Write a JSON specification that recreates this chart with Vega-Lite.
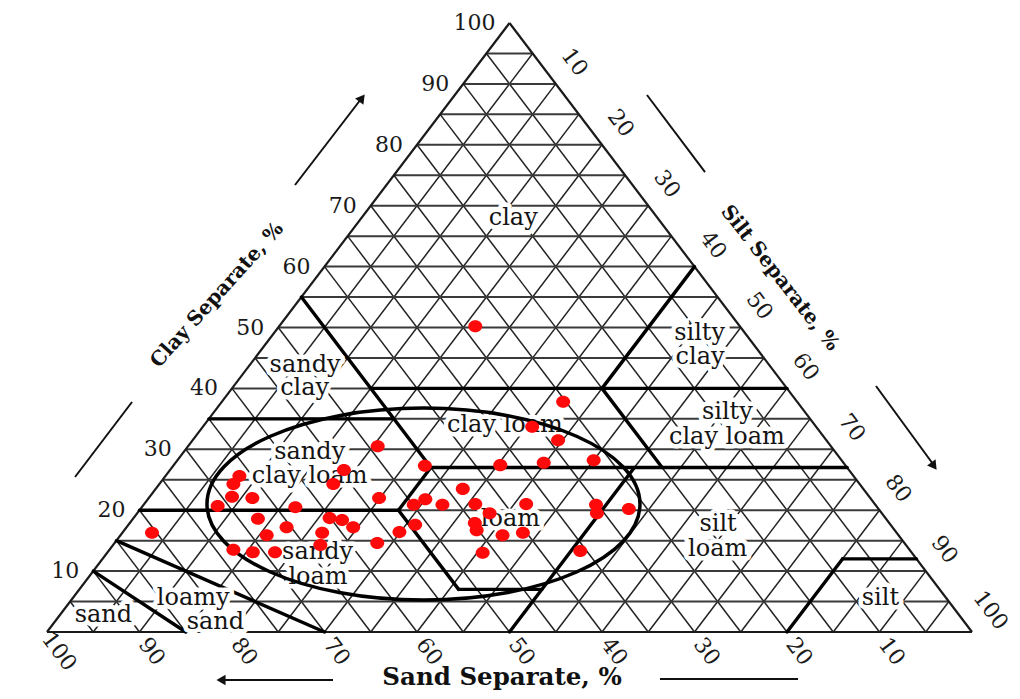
{
  "$schema": "https://vega.github.io/schema/vega-lite/v6.json",
  "width": 1020,
  "height": 699,
  "autosize": {"type": "fit", "contains": "padding"},
  "padding": 0,
  "background": "white",
  "config": {"view": {"stroke": null}},
  "datasets": {
    "lattice": [
      {"part": "clay", "c1": 5, "t1": 0, "c2": 5, "t2": 95},
      {"part": "clay", "c1": 10, "t1": 0, "c2": 10, "t2": 90},
      {"part": "clay", "c1": 15, "t1": 0, "c2": 15, "t2": 85},
      {"part": "clay", "c1": 20, "t1": 0, "c2": 20, "t2": 80},
      {"part": "clay", "c1": 25, "t1": 0, "c2": 25, "t2": 75},
      {"part": "clay", "c1": 30, "t1": 0, "c2": 30, "t2": 70},
      {"part": "clay", "c1": 35, "t1": 0, "c2": 35, "t2": 65},
      {"part": "clay", "c1": 40, "t1": 0, "c2": 40, "t2": 60},
      {"part": "clay", "c1": 45, "t1": 0, "c2": 45, "t2": 55},
      {"part": "clay", "c1": 50, "t1": 0, "c2": 50, "t2": 50},
      {"part": "clay", "c1": 55, "t1": 0, "c2": 55, "t2": 45},
      {"part": "clay", "c1": 60, "t1": 0, "c2": 60, "t2": 40},
      {"part": "clay", "c1": 65, "t1": 0, "c2": 65, "t2": 35},
      {"part": "clay", "c1": 70, "t1": 0, "c2": 70, "t2": 30},
      {"part": "clay", "c1": 75, "t1": 0, "c2": 75, "t2": 25},
      {"part": "clay", "c1": 80, "t1": 0, "c2": 80, "t2": 20},
      {"part": "clay", "c1": 85, "t1": 0, "c2": 85, "t2": 15},
      {"part": "clay", "c1": 90, "t1": 0, "c2": 90, "t2": 10},
      {"part": "clay", "c1": 95, "t1": 0, "c2": 95, "t2": 5},
      {"part": "sand", "c1": 0, "t1": 95, "c2": 95, "t2": 0},
      {"part": "sand", "c1": 0, "t1": 90, "c2": 90, "t2": 0},
      {"part": "sand", "c1": 0, "t1": 85, "c2": 85, "t2": 0},
      {"part": "sand", "c1": 0, "t1": 80, "c2": 80, "t2": 0},
      {"part": "sand", "c1": 0, "t1": 75, "c2": 75, "t2": 0},
      {"part": "sand", "c1": 0, "t1": 70, "c2": 70, "t2": 0},
      {"part": "sand", "c1": 0, "t1": 65, "c2": 65, "t2": 0},
      {"part": "sand", "c1": 0, "t1": 60, "c2": 60, "t2": 0},
      {"part": "sand", "c1": 0, "t1": 55, "c2": 55, "t2": 0},
      {"part": "sand", "c1": 0, "t1": 50, "c2": 50, "t2": 0},
      {"part": "sand", "c1": 0, "t1": 45, "c2": 45, "t2": 0},
      {"part": "sand", "c1": 0, "t1": 40, "c2": 40, "t2": 0},
      {"part": "sand", "c1": 0, "t1": 35, "c2": 35, "t2": 0},
      {"part": "sand", "c1": 0, "t1": 30, "c2": 30, "t2": 0},
      {"part": "sand", "c1": 0, "t1": 25, "c2": 25, "t2": 0},
      {"part": "sand", "c1": 0, "t1": 20, "c2": 20, "t2": 0},
      {"part": "sand", "c1": 0, "t1": 15, "c2": 15, "t2": 0},
      {"part": "sand", "c1": 0, "t1": 10, "c2": 10, "t2": 0},
      {"part": "sand", "c1": 0, "t1": 5, "c2": 5, "t2": 0},
      {"part": "silt", "c1": 0, "t1": 5, "c2": 95, "t2": 5},
      {"part": "silt", "c1": 0, "t1": 10, "c2": 90, "t2": 10},
      {"part": "silt", "c1": 0, "t1": 15, "c2": 85, "t2": 15},
      {"part": "silt", "c1": 0, "t1": 20, "c2": 80, "t2": 20},
      {"part": "silt", "c1": 0, "t1": 25, "c2": 75, "t2": 25},
      {"part": "silt", "c1": 0, "t1": 30, "c2": 70, "t2": 30},
      {"part": "silt", "c1": 0, "t1": 35, "c2": 65, "t2": 35},
      {"part": "silt", "c1": 0, "t1": 40, "c2": 60, "t2": 40},
      {"part": "silt", "c1": 0, "t1": 45, "c2": 55, "t2": 45},
      {"part": "silt", "c1": 0, "t1": 50, "c2": 50, "t2": 50},
      {"part": "silt", "c1": 0, "t1": 55, "c2": 45, "t2": 55},
      {"part": "silt", "c1": 0, "t1": 60, "c2": 40, "t2": 60},
      {"part": "silt", "c1": 0, "t1": 65, "c2": 35, "t2": 65},
      {"part": "silt", "c1": 0, "t1": 70, "c2": 30, "t2": 70},
      {"part": "silt", "c1": 0, "t1": 75, "c2": 25, "t2": 75},
      {"part": "silt", "c1": 0, "t1": 80, "c2": 20, "t2": 80},
      {"part": "silt", "c1": 0, "t1": 85, "c2": 15, "t2": 85},
      {"part": "silt", "c1": 0, "t1": 90, "c2": 10, "t2": 90},
      {"part": "silt", "c1": 0, "t1": 95, "c2": 5, "t2": 95}
    ],
    "edges": [
      {"c1": 0, "t1": 0, "c2": 0, "t2": 100},
      {"c1": 0, "t1": 0, "c2": 100, "t2": 0},
      {"c1": 0, "t1": 100, "c2": 100, "t2": 0}
    ],
    "classes": [
      {"c1": 40, "t1": 15, "c2": 40, "t2": 60},
      {"c1": 40, "t1": 40, "c2": 60, "t2": 40},
      {"c1": 55, "t1": 0, "c2": 27, "t2": 28},
      {"c1": 35, "t1": 0, "c2": 35, "t2": 20},
      {"c1": 27, "t1": 28, "c2": 27, "t2": 73},
      {"c1": 27, "t1": 53, "c2": 40, "t2": 40},
      {"c1": 20, "t1": 28, "c2": 27, "t2": 28},
      {"c1": 20, "t1": 0, "c2": 20, "t2": 28},
      {"c1": 20, "t1": 28, "c2": 7, "t2": 41},
      {"c1": 7, "t1": 41, "c2": 7, "t2": 50},
      {"c1": 0, "t1": 50, "c2": 27, "t2": 50},
      {"c1": 0, "t1": 80, "c2": 12, "t2": 80},
      {"c1": 12, "t1": 80, "c2": 12, "t2": 88},
      {"c1": 0, "t1": 30, "c2": 15, "t2": 0},
      {"c1": 0, "t1": 15, "c2": 10, "t2": 0}
    ],
    "names": [
      {"text": "clay", "clay": 68.0, "silt": 16.4},
      {"text": "sandy", "clay": 43.8, "silt": 6.0},
      {"text": "clay", "clay": 40.1, "silt": 7.8},
      {"text": "silty", "clay": 49.1, "silt": 46.0},
      {"text": "clay", "clay": 45.2, "silt": 48.0},
      {"text": "clay loam", "clay": 34.0, "silt": 32.5},
      {"text": "silty", "clay": 36.1, "silt": 55.5},
      {"text": "clay loam", "clay": 32.0, "silt": 57.5},
      {"text": "sandy", "clay": 29.6, "silt": 13.6},
      {"text": "clay loam", "clay": 25.6, "silt": 15.6},
      {"text": "loam", "clay": 18.6, "silt": 40.8},
      {"text": "silt", "clay": 17.7, "silt": 63.7},
      {"text": "loam", "clay": 13.6, "silt": 65.7},
      {"text": "sandy", "clay": 13.1, "silt": 22.7},
      {"text": "loam", "clay": 9.0, "silt": 24.8},
      {"text": "loamy", "clay": 5.6, "silt": 13.0},
      {"text": "sand", "clay": 1.6, "silt": 17.4},
      {"text": "sand", "clay": 2.8, "silt": 4.7},
      {"text": "silt", "clay": 5.6, "silt": 87.3}
    ],
    "samples": [
      {"sand": 28.6, "silt": 21.2, "clay": 50.2},
      {"sand": 25.3, "silt": 36.9, "clay": 37.8},
      {"sand": 30.7, "silt": 35.6, "clay": 33.7},
      {"sand": 29.0, "silt": 39.5, "clay": 31.5},
      {"sand": 26.8, "silt": 45.0, "clay": 28.2},
      {"sand": 32.4, "silt": 39.8, "clay": 27.8},
      {"sand": 37.3, "silt": 35.3, "clay": 27.4},
      {"sand": 45.5, "silt": 27.2, "clay": 27.3},
      {"sand": 43.3, "silt": 33.2, "clay": 23.5},
      {"sand": 49.0, "silt": 20.5, "clay": 30.5},
      {"sand": 54.6, "silt": 18.8, "clay": 26.6},
      {"sand": 56.9, "silt": 18.8, "clay": 24.3},
      {"sand": 53.1, "silt": 24.9, "clay": 22.0},
      {"sand": 49.9, "silt": 29.2, "clay": 20.9},
      {"sand": 48.2, "silt": 30.0, "clay": 21.8},
      {"sand": 46.8, "silt": 32.3, "clay": 20.9},
      {"sand": 43.2, "silt": 35.8, "clay": 21.0},
      {"sand": 42.4, "silt": 38.1, "clay": 19.5},
      {"sand": 37.7, "silt": 41.3, "clay": 21.0},
      {"sand": 44.8, "silt": 37.3, "clay": 17.9},
      {"sand": 45.2, "silt": 38.1, "clay": 16.7},
      {"sand": 42.8, "silt": 41.3, "clay": 15.9},
      {"sand": 40.4, "silt": 43.3, "clay": 16.3},
      {"sand": 51.4, "silt": 31.0, "clay": 17.6},
      {"sand": 53.7, "silt": 29.9, "clay": 16.4},
      {"sand": 46.4, "silt": 40.6, "clay": 13.0},
      {"sand": 35.7, "silt": 51.0, "clay": 13.3},
      {"sand": 30.2, "silt": 48.9, "clay": 20.9},
      {"sand": 30.8, "silt": 49.7, "clay": 19.5},
      {"sand": 27.0, "silt": 52.8, "clay": 20.2},
      {"sand": 57.0, "silt": 28.4, "clay": 14.6},
      {"sand": 63.3, "silt": 22.4, "clay": 14.3},
      {"sand": 62.1, "silt": 21.6, "clay": 16.3},
      {"sand": 58.3, "silt": 24.5, "clay": 17.2},
      {"sand": 58.9, "silt": 22.7, "clay": 18.4},
      {"sand": 60.1, "silt": 21.2, "clay": 18.7},
      {"sand": 65.5, "silt": 17.3, "clay": 17.2},
      {"sand": 68.3, "silt": 15.8, "clay": 15.9},
      {"sand": 67.9, "silt": 13.5, "clay": 18.6},
      {"sand": 62.9, "silt": 16.6, "clay": 20.5},
      {"sand": 66.8, "silt": 11.2, "clay": 22.0},
      {"sand": 68.9, "silt": 8.9, "clay": 22.2},
      {"sand": 71.2, "silt": 8.1, "clay": 20.7},
      {"sand": 66.4, "silt": 8.0, "clay": 25.6},
      {"sand": 67.7, "silt": 8.0, "clay": 24.3},
      {"sand": 80.5, "silt": 3.2, "clay": 16.3},
      {"sand": 73.1, "silt": 13.4, "clay": 13.5},
      {"sand": 71.2, "silt": 15.7, "clay": 13.1},
      {"sand": 68.8, "silt": 18.1, "clay": 13.1}
    ],
    "group": [{"x": 40.7, "y": 21.0}],
    "arrows": [
      {"name": "clay", "x": 26.81, "y": 73.40, "x2": 33.95, "y2": 87.52},
      {"name": "silt", "x": 89.62, "y": 40.39, "x2": 95.78, "y2": 27.59},
      {"name": "sand", "x": 30.92, "y": -7.88, "x2": 19.24, "y2": -7.88},
      {"name": "silt-line", "x": 64.86, "y": 88.18, "x2": 71.14, "y2": 75.53},
      {"name": "clay-line", "x": 3.03, "y": 25.45, "x2": 9.19, "y2": 37.77},
      {"name": "sand-line", "x": 66.27, "y": -7.72, "x2": 81.19, "y2": -7.72}
    ],
    "heads": [
      {"name": "clay", "x": 34.05, "y": 87.68},
      {"name": "silt", "x": 95.89, "y": 27.26},
      {"name": "sand", "x": 18.81, "y": -7.88}
    ],
    "clayTicks": [
      {"v": "10", "clay": 10}, {"v": "20", "clay": 20}, {"v": "30", "clay": 30},
      {"v": "40", "clay": 40}, {"v": "50", "clay": 50}, {"v": "60", "clay": 60},
      {"v": "70", "clay": 70}, {"v": "80", "clay": 80}, {"v": "90", "clay": 90},
      {"v": "100", "clay": 100}
    ],
    "siltTicks": [
      {"v": "10", "silt": 10}, {"v": "20", "silt": 20}, {"v": "30", "silt": 30},
      {"v": "40", "silt": 40}, {"v": "50", "silt": 50}, {"v": "60", "silt": 60},
      {"v": "70", "silt": 70}, {"v": "80", "silt": 80}, {"v": "90", "silt": 90},
      {"v": "100", "silt": 100}
    ],
    "sandTicks": [
      {"v": "10", "sand": 10}, {"v": "20", "sand": 20}, {"v": "30", "sand": 30},
      {"v": "40", "sand": 40}, {"v": "50", "sand": 50}, {"v": "60", "sand": 60},
      {"v": "70", "sand": 70}, {"v": "80", "sand": 80}, {"v": "90", "sand": 90},
      {"v": "100", "sand": 100}
    ],
    "titles": [
      {"text": "Clay Separate, %", "x": 18.38, "y": 55.34},
      {"text": "Silt Separate, %", "x": 79.24, "y": 58.13},
      {"text": "Sand Separate, %", "x": 49.19, "y": -7.55}
    ]
  },
  "encoding": {
    "x": {"field": "x", "type": "quantitative", "scale": {"domain": [-5.0811, 105.1892], "nice": false, "zero": false}, "axis": null},
    "y": {"field": "y", "type": "quantitative", "scale": {"domain": [-11.0016, 103.777], "nice": false, "zero": false}, "axis": null}
  },
  "layer": [
    {
      "data": {"name": "lattice"},
      "transform": [
        {"filter": "datum.part != 'clay'"},
        {"calculate": "datum.t1 + datum.c1 / 2", "as": "x"},
        {"calculate": "datum.c1", "as": "y"},
        {"calculate": "datum.t2 + datum.c2 / 2", "as": "x2"},
        {"calculate": "datum.c2", "as": "y2"}
      ],
      "mark": {"type": "rule", "stroke": "#222", "strokeWidth": 1.5},
      "encoding": {"x2": {"field": "x2"}, "y2": {"field": "y2"}}
    },
    {
      "data": {"name": "lattice"},
      "transform": [
        {"filter": "datum.part == 'clay'"},
        {"calculate": "datum.t1 + datum.c1 / 2", "as": "x"},
        {"calculate": "datum.c1", "as": "y"},
        {"calculate": "datum.t2 + datum.c2 / 2", "as": "x2"},
        {"calculate": "datum.c2", "as": "y2"}
      ],
      "mark": {"type": "rule", "stroke": "#3a3a3a", "strokeWidth": 2},
      "encoding": {"x2": {"field": "x2"}, "y2": {"field": "y2"}}
    },
    {
      "data": {"name": "edges"},
      "transform": [
        {"calculate": "datum.t1 + datum.c1 / 2", "as": "x"},
        {"calculate": "datum.c1", "as": "y"},
        {"calculate": "datum.t2 + datum.c2 / 2", "as": "x2"},
        {"calculate": "datum.c2", "as": "y2"}
      ],
      "mark": {"type": "rule", "stroke": "#1a1a1a", "strokeWidth": 2.2},
      "encoding": {"x2": {"field": "x2"}, "y2": {"field": "y2"}}
    },
    {
      "data": {"name": "classes"},
      "transform": [
        {"calculate": "datum.t1 + datum.c1 / 2", "as": "x"},
        {"calculate": "datum.c1", "as": "y"},
        {"calculate": "datum.t2 + datum.c2 / 2", "as": "x2"},
        {"calculate": "datum.c2", "as": "y2"}
      ],
      "mark": {"type": "rule", "stroke": "#000", "strokeWidth": 3.4, "strokeCap": "round"},
      "encoding": {"x2": {"field": "x2"}, "y2": {"field": "y2"}}
    },
    {
      "data": {"name": "names"},
      "transform": [
        {"calculate": "datum.silt + datum.clay / 2", "as": "x"},
        {"calculate": "datum.clay", "as": "y"}
      ],
      "mark": {"type": "text", "font": "DejaVu Serif", "fontSize": 24, "align": "center", "baseline": "middle", "fill": "white", "stroke": "white", "strokeWidth": 9, "strokeJoin": "round"},
      "encoding": {"text": {"field": "text"}}
    },
    {
      "data": {"name": "names"},
      "transform": [
        {"calculate": "datum.silt + datum.clay / 2", "as": "x"},
        {"calculate": "datum.clay", "as": "y"}
      ],
      "mark": {"type": "text", "font": "DejaVu Serif", "fontSize": 24, "align": "center", "baseline": "middle", "fill": "#141414"},
      "encoding": {"text": {"field": "text"}}
    },
    {
      "data": {"name": "group"},
      "mark": {"type": "point", "shape": "M 1 0 C 1 0.2449 0.5523 0.4434 0 0.4434 C -0.5523 0.4434 -1 0.2449 -1 0 C -1 -0.2449 -0.5523 -0.4434 0 -0.4434 C 0.5523 -0.4434 1 -0.2449 1 0 Z", "size": 187489, "filled": false, "stroke": "#000", "strokeWidth": 3.5, "opacity": 1}
    },
    {
      "data": {"name": "samples"},
      "transform": [
        {"calculate": "datum.silt + datum.clay / 2", "as": "x"},
        {"calculate": "datum.clay", "as": "y"}
      ],
      "mark": {"type": "point", "shape": "M 1 0 C 1 0.475 0.5523 0.86 0 0.86 C -0.5523 0.86 -1 0.475 -1 0 C -1 -0.475 -0.5523 -0.86 0 -0.86 C 0.5523 -0.86 1 -0.475 1 0 Z", "size": 196, "filled": true, "fill": "#ff0a0a", "stroke": null, "opacity": 1}
    },
    {
      "data": {"name": "arrows"},
      "mark": {"type": "rule", "stroke": "#111", "strokeWidth": 2},
      "encoding": {"x2": {"field": "x2"}, "y2": {"field": "y2"}}
    },
    {
      "data": {"name": "heads"},
      "transform": [{"filter": "datum.name == 'clay'"}],
      "mark": {"type": "point", "shape": "triangle-up", "angle": 37, "size": 110, "filled": true, "fill": "#111", "opacity": 1}
    },
    {
      "data": {"name": "heads"},
      "transform": [{"filter": "datum.name == 'silt'"}],
      "mark": {"type": "point", "shape": "triangle-up", "angle": 144, "size": 110, "filled": true, "fill": "#111", "opacity": 1}
    },
    {
      "data": {"name": "heads"},
      "transform": [{"filter": "datum.name == 'sand'"}],
      "mark": {"type": "point", "shape": "triangle-left", "size": 110, "filled": true, "fill": "#111", "opacity": 1}
    },
    {
      "data": {"name": "clayTicks"},
      "transform": [
        {"calculate": "datum.clay / 2", "as": "x"},
        {"calculate": "datum.clay", "as": "y"}
      ],
      "mark": {"type": "text", "font": "DejaVu Serif", "fontSize": 22, "align": "right", "baseline": "middle", "dx": -14, "fill": "#1a1a1a"},
      "encoding": {"text": {"field": "v"}}
    },
    {
      "data": {"name": "siltTicks"},
      "transform": [
        {"calculate": "datum.silt + (100 - datum.silt) / 2", "as": "x"},
        {"calculate": "100 - datum.silt", "as": "y"}
      ],
      "mark": {"type": "text", "font": "DejaVu Serif", "fontSize": 22, "align": "center", "baseline": "middle", "angle": 53, "dx": -6, "dy": -28, "fill": "#1a1a1a"},
      "encoding": {"text": {"field": "v"}}
    },
    {
      "data": {"name": "sandTicks"},
      "transform": [
        {"calculate": "100 - datum.sand", "as": "x"},
        {"calculate": "0", "as": "y"}
      ],
      "mark": {"type": "text", "font": "DejaVu Serif", "fontSize": 22, "align": "center", "baseline": "middle", "angle": 53, "dx": 23, "dy": 2, "fill": "#1a1a1a"},
      "encoding": {"text": {"field": "v"}}
    },
    {
      "data": {"name": "titles"},
      "transform": [{"filter": "datum.text == 'Clay Separate, %'"}],
      "mark": {"type": "text", "font": "DejaVu Serif", "fontWeight": "bold", "fontSize": 20, "align": "center", "baseline": "middle", "angle": -48, "fill": "#111"},
      "encoding": {"text": {"field": "text"}}
    },
    {
      "data": {"name": "titles"},
      "transform": [{"filter": "datum.text == 'Silt Separate, %'"}],
      "mark": {"type": "text", "font": "DejaVu Serif", "fontWeight": "bold", "fontSize": 20, "align": "center", "baseline": "middle", "angle": 52, "fill": "#111"},
      "encoding": {"text": {"field": "text"}}
    },
    {
      "data": {"name": "titles"},
      "transform": [{"filter": "datum.text == 'Sand Separate, %'"}],
      "mark": {"type": "text", "font": "DejaVu Serif", "fontWeight": "bold", "fontSize": 24.5, "align": "center", "baseline": "middle", "fill": "#111"},
      "encoding": {"text": {"field": "text"}}
    }
  ]
}
